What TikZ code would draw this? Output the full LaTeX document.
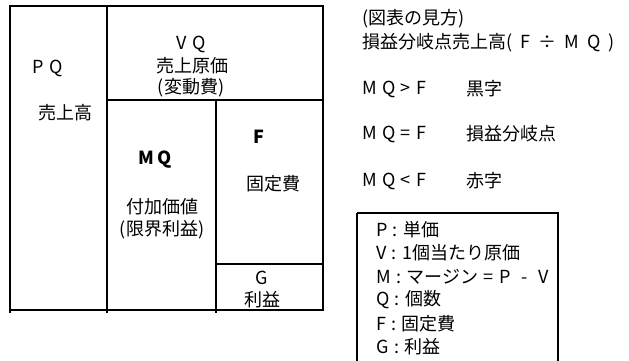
\documentclass[tikz,border=0pt]{standalone}
\usepackage{fontspec}
\setmainfont{Noto Sans CJK JP}
\newcommand{\gp}{\hspace{0.3em}}
\newcommand{\gq}{\hspace{0.45em}}
\begin{document}
\begin{tikzpicture}[x=1pt,y=-1pt,
  lbl/.style={inner sep=0pt,font=\fontsize{18}{20}\selectfont,align=center},
  lft/.style={lbl,anchor=west,align=left},
  thick line/.style={line width=2pt},
  ]
\useasboundingbox[fill=white] (0,0) rectangle (629,360);
% main table
\draw[thick line] (10,6) rectangle (323,310);
\draw[thick line] (10,310) -- (10,313);
\draw[thick line] (107,6) -- (107,313);
\draw[thick line] (107,100) -- (323,100);
\draw[thick line] (216,100) -- (216,313);
\draw[thick line] (216,264) -- (323,264);
% texts in table
\node[lbl] (pq) at (48,68) {P\gp Q};
\node[lbl] (sales) at (65,113) {売上高};
\node[lbl] (vq) at (191,44) {V\gp Q};
\node[lbl] (cost) at (192,66) {売上原価};
\node[lbl] (varc) at (191,88) {(変動費)};
\node[lbl,font=\fontsize{18}{20}\selectfont\bfseries] (mq) at (155,160) {M\hspace{0.15em}Q};
\node[lbl] (va) at (162,207) {付加価値};
\node[lbl] (mp) at (162,230) {(限界利益)};
\node[lbl,font=\fontsize{18}{20}\selectfont\bfseries] (f) at (259,137) {F};
\node[lbl] (fc) at (273,184) {固定費};
\node[lbl] (g) at (262,278) {G};
\node[lbl] (profit) at (262,300) {利益};
% right side
\node[lft] (t1) at (362,19) {(図表の見方)};
\node[lft] (t2) at (362,43) {損益分岐点売上高(\gq F\gq ÷\gq M\gq Q\gq)};
\node[lft] (r1) at (362,89) {M\gp Q\gp >\gp F};
\node[lft] (r1b) at (466,89) {黒字};
\node[lft] (r2) at (362,134) {M\gp Q\gp =\gp F};
\node[lft] (r2b) at (466,134) {損益分岐点};
\node[lft] (r3) at (362,181) {M\gp Q\gp <\gp F};
\node[lft] (r3b) at (466,181) {赤字};
% legend
\draw[line width=1.2pt] (357,213) -- (357,362) (357,213) -- (558,213) -- (558,362);
\node[lft] (l1) at (376,230) {P\gp:\gp 単価};
\node[lft] (l2) at (376,253) {V\gp:\gp 1個当たり原価};
\node[lft] (l3) at (376,277) {M\gp:\gp マージン\gp =\gp P\gp\gp -\gp\gp V};
\node[lft] (l4) at (376,300) {Q\gp:\gp 個数};
\node[lft] (l5) at (376,324) {F\gp:\gp 固定費};
\node[lft] (l6) at (376,347) {G\gp:\gp 利益};
\end{tikzpicture}
\end{document}
